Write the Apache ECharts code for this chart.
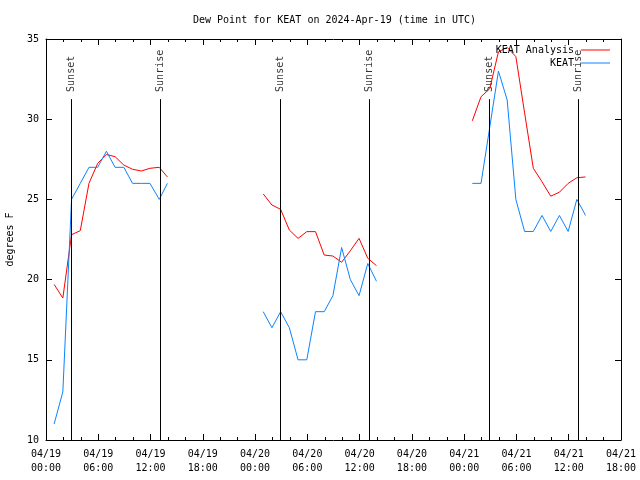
<!DOCTYPE html>
<html>
<head>
<meta charset="utf-8">
<script src="https://cdn.jsdelivr.net/npm/echarts@6/dist/echarts.min.js"></script>
<style>html,body{margin:0;padding:0;background:#fff}#c{width:640px;height:480px}</style>
</head>
<body>
<div id="c"></div>
<script>
const titleText = 'Dew Point for KEAT on 2024-Apr-19 (time in UTC)';
const yAxisName = 'degrees F';
const xTickLabels = ['04/19\n00:00','04/19\n06:00','04/19\n12:00','04/19\n18:00','04/20\n00:00','04/20\n06:00','04/20\n12:00','04/20\n18:00','04/21\n00:00','04/21\n06:00','04/21\n12:00','04/21\n18:00'];
const xStart = '04/19 00:00';
const xEnd = '04/21 18:00';
const yMin = 10, yMax = 35, yStep = 5;

// observation times (null = gap between segments)
const obsTimes = [
  '04/19 00:56','04/19 01:56','04/19 02:56','04/19 03:56','04/19 04:56','04/19 05:56','04/19 06:56',
  '04/19 07:56','04/19 08:56','04/19 09:56','04/19 10:56','04/19 11:56','04/19 13:00','04/19 13:56',
  null,
  '04/20 00:56','04/20 01:56','04/20 02:56','04/20 03:56','04/20 04:56','04/20 05:56','04/20 06:56',
  '04/20 07:56','04/20 08:56','04/20 09:56','04/20 10:56','04/20 11:56','04/20 12:56','04/20 13:56',
  null,
  '04/21 00:56','04/21 01:56','04/21 02:56','04/21 03:56','04/21 04:56','04/21 05:56','04/21 06:56',
  '04/21 07:56','04/21 08:56','04/21 09:56','04/21 10:56','04/21 11:56','04/21 12:56','04/21 13:56'
];
const analysisValues = [
  19.7, 18.85, 22.8, 23.05, 26.0, 27.25, 27.8, 27.66, 27.14, 26.88, 26.77, 26.94, 27.0, 26.4,
  null,
  25.34, 24.65, 24.38, 23.09, 22.57, 22.99, 22.99, 21.53, 21.47, 21.08, 21.8, 22.57, 21.33, 20.87,
  null,
  29.9, 31.4, 31.9, 34.2, 34.48, 33.9, 30.4, 26.94, 26.1, 25.2, 25.45, 26.0, 26.35, 26.4
];
const keatValues = [
  11, 13, 25, 26, 27, 27, 28, 27, 27, 26, 26, 26, 25, 26,
  null,
  18, 17, 18, 17, 15, 15, 18, 18, 19, 22, 20, 19, 21, 19.9,
  null,
  26, 26, 29.5, 33, 31.2, 25, 23, 23, 24, 23, 24, 23, 25, 24
];
const eventNames = ['Sunset','Sunrise','Sunset','Sunrise','Sunset','Sunrise'];
const eventTimes = ['04/19 02:52','04/19 13:05','04/20 02:52','04/20 13:05','04/21 02:52','04/21 13:04'];
const eventLineTop = 31.25;
const eventLabelAt = 31.7;

function toHours(s){
  const [md, hm] = s.split(' ');
  const day = parseInt(md.split('/')[1], 10);
  const [h, m] = hm.split(':').map(Number);
  return (day - 19) * 24 + h + m / 60;
}
function buildData(vals){
  return obsTimes.map((t, i) => (t === null || vals[i] === null) ? '-' : [toHours(t), vals[i]]);
}

const FONT = 'DejaVu Sans Mono';
const xMin = toHours(xStart), xMax = toHours(xEnd);

const baseX = {
  type: 'value', min: xMin, max: xMax, interval: 6,
  axisLine: { show: true, onZero: false, lineStyle: { color: '#000', width: 1 } },
  axisTick: { show: true, inside: true, length: 6, lineStyle: { color: '#000' } },
  minorTick: { show: true, splitNumber: 3, length: 3, lineStyle: { color: '#000' } },
  splitLine: { show: false }, minorSplitLine: { show: false }
};
const baseY = {
  type: 'value', min: yMin, max: yMax, interval: yStep,
  axisLine: { show: true, onZero: false, lineStyle: { color: '#000', width: 1 } },
  axisTick: { show: true, inside: true, length: 6, lineStyle: { color: '#000' } },
  splitLine: { show: false }
};

const chart = echarts.init(document.getElementById('c'), null, { renderer: 'canvas' });
chart.setOption({
  animation: false,
  backgroundColor: '#fff',
  textStyle: { fontFamily: FONT },
  title: {
    text: titleText, left: 193, top: 15, padding: 0,
    textStyle: { fontFamily: FONT, fontSize: 10, fontWeight: 'normal', color: '#000' }
  },
  legend: {
    data: ['KEAT Analysis', 'KEAT'], orient: 'vertical', right: 30, top: 44, align: 'right',
    icon: 'rect', itemWidth: 29, itemHeight: 1, itemGap: 1, padding: 0,
    textStyle: { fontFamily: FONT, fontSize: 10, color: '#000', lineHeight: 12, padding: [0, 2, 0, 0] }
  },
  grid: { left: 46, right: 19, top: 39, bottom: 40, containLabel: false, outerBoundsMode: 'none' },
  xAxis: [
    Object.assign({}, baseX, {
      position: 'bottom',
      axisLabel: {
        show: true, margin: 7, fontFamily: FONT, fontSize: 10, color: '#000', lineHeight: 14,
        formatter: v => xTickLabels[Math.round((v - xMin) / 6)] || ''
      }
    }),
    Object.assign({}, baseX, { position: 'top', axisLabel: { show: false } })
  ],
  yAxis: [
    Object.assign({}, baseY, {
      position: 'left',
      name: yAxisName, nameLocation: 'middle', nameRotate: 90, nameGap: 31,
      nameTextStyle: { fontFamily: FONT, fontSize: 10, color: '#000' },
      axisLabel: { show: true, margin: 7, fontFamily: FONT, fontSize: 10, color: '#000' }
    }),
    Object.assign({}, baseY, { position: 'right', axisLabel: { show: false } })
  ],
  series: [
    {
      name: 'KEAT Analysis', type: 'line', symbol: 'none', connectNulls: false,
      color: '#ff0000', lineStyle: { color: '#ff0000', width: 1 },
      data: buildData(analysisValues), z: 3
    },
    {
      name: 'KEAT', type: 'line', symbol: 'none', connectNulls: false,
      color: '#0a84ff', lineStyle: { color: '#0a84ff', width: 1 },
      data: buildData(keatValues), z: 3
    },
    {
      name: 'events', type: 'scatter', symbolSize: 0, silent: true, z: 2,
      data: eventTimes.map((t, i) => ({ value: [toHours(t), eventLabelAt], name: eventNames[i] })),
      label: {
        show: true, position: [0, 0], rotate: 90, align: 'left', verticalAlign: 'middle',
        formatter: p => p.name, fontFamily: FONT, fontSize: 10, color: '#000'
      },
      markLine: {
        silent: true, symbol: 'none', animation: false,
        label: { show: false },
        lineStyle: { color: '#000', width: 1, type: 'solid' },
        data: eventTimes.map(t => [{ coord: [toHours(t), yMin] }, { coord: [toHours(t), eventLineTop] }])
      }
    }
  ]
});
</script>
</body>
</html>
